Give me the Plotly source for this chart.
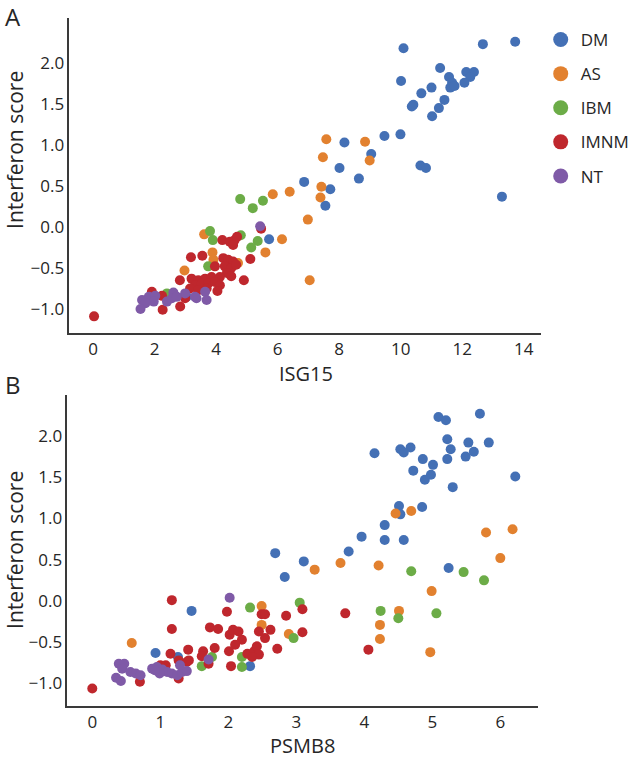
import plotly.graph_objects as go

groups = ["DM", "AS", "IBM", "IMNM", "NT"]
colors = {"DM": "#4470b5", "AS": "#e2812f", "IBM": "#6cac47", "IMNM": "#bf272d", "NT": "#7f5aa7"}

# Panel A: ISG15 vs interferon score
isg15_dm = [10.09, 12.67, 13.72, 11.28, 10.01, 11.57, 11.67, 11.61, 11.75, 12.13, 12.38, 12.26, 12.07,
            11.0, 10.67, 10.41, 10.36, 11.42, 11.24, 11.02, 9.47, 9.99, 8.17, 9.04, 8.01, 10.64, 10.82,
            6.86, 8.64, 7.71, 7.55, 13.29, 5.72, 3.04]
ifn_a_dm = [2.18, 2.23, 2.26, 1.94, 1.78, 1.83, 1.76, 1.70, 1.72, 1.89, 1.89, 1.83, 1.76,
            1.70, 1.63, 1.49, 1.47, 1.55, 1.45, 1.35, 1.11, 1.13, 1.03, 0.89, 0.72, 0.75, 0.72,
            0.55, 0.59, 0.46, 0.26, 0.37, -0.15, -0.85]
isg15_as = [7.58, 8.84, 7.47, 8.99, 7.42, 7.39, 6.39, 5.84, 6.98, 7.04, 6.14, 5.60, 3.61, 3.88, 3.91, 4.71, 2.97]
ifn_a_as = [1.07, 1.04, 0.85, 0.81, 0.49, 0.36, 0.43, 0.40, 0.09, -0.65, -0.15, -0.31, -0.09, -0.31, -0.40, -0.44, -0.53]
isg15_ibm = [4.78, 5.19, 5.52, 3.80, 3.89, 4.80, 5.35, 5.14, 3.74, 2.40]
ifn_a_ibm = [0.34, 0.23, 0.32, -0.05, -0.16, -0.10, -0.17, -0.25, -0.48, -0.81]
isg15_imnm = [5.46, 4.20, 4.44, 4.60, 4.68, 4.55, 3.18, 3.55, 3.96, 4.23, 4.39, 4.55, 4.28, 4.49, 4.65,
              5.11, 4.35, 4.49, 4.90, 2.82, 3.20, 3.42, 3.64, 3.85, 4.12, 3.31, 3.53, 3.74, 3.96, 4.12,
              3.15, 3.42, 3.69, 4.04, 1.91, 2.24, 2.99, 2.83, 2.26, 0.03]
ifn_a_imnm = [-0.02, -0.16, -0.18, -0.16, -0.12, -0.22, -0.37, -0.35, -0.48, -0.38, -0.40, -0.42, -0.48, -0.50, -0.46,
              -0.39, -0.56, -0.60, -0.65, -0.65, -0.63, -0.65, -0.63, -0.61, -0.61, -0.71, -0.69, -0.69, -0.67, -0.71,
              -0.75, -0.77, -0.75, -0.78, -0.79, -0.84, -0.87, -0.97, -1.01, -1.09]
isg15_nt = [5.43, 2.61, 2.99, 3.36, 3.64, 3.69, 3.31, 1.59, 1.81, 2.02, 1.97, 1.70, 1.54, 2.40, 2.56, 2.72]
ifn_a_nt = [0.01, -0.80, -0.81, -0.87, -0.79, -0.89, -0.85, -0.89, -0.85, -0.84, -0.91, -0.93, -1.00, -0.91, -0.87, -0.85]

# Panel B: PSMB8 vs interferon score
psmb8_dm = [5.09, 5.20, 5.70, 5.22, 5.53, 5.83, 5.27, 5.61, 5.49, 5.22, 4.15, 4.53, 4.68, 4.58, 4.86, 5.01,
            4.72, 4.98, 4.89, 6.22, 5.30, 4.51, 4.53, 4.85, 4.30, 3.96, 4.30, 4.58, 3.77, 3.11, 5.24,
            2.69, 2.83, 1.46, 0.93, 1.26, 2.32]
ifn_b_dm = [2.23, 2.19, 2.27, 1.96, 1.92, 1.92, 1.84, 1.81, 1.75, 1.72, 1.79, 1.84, 1.86, 1.80, 1.72, 1.65,
            1.58, 1.53, 1.47, 1.51, 1.38, 1.15, 1.05, 1.14, 0.92, 0.78, 0.74, 0.74, 0.60, 0.48, 0.40,
            0.58, 0.29, -0.12, -0.63, -0.68, -0.79]
psmb8_as = [4.46, 4.69, 5.79, 6.18, 6.00, 3.27, 3.65, 4.21, 4.99, 4.51, 4.23, 4.23, 4.97, 0.58, 2.49, 2.49, 2.89]
ifn_b_as = [1.06, 1.09, 0.83, 0.87, 0.52, 0.38, 0.46, 0.43, 0.12, -0.12, -0.29, -0.46, -0.62, -0.51, -0.06, -0.29, -0.40]
psmb8_ibm = [4.69, 5.46, 5.76, 4.24, 5.06, 4.50, 3.05, 2.32, 2.96, 2.20, 2.20, 1.61, 1.76]
ifn_b_ibm = [0.36, 0.35, 0.25, -0.12, -0.15, -0.21, -0.02, -0.08, -0.45, -0.68, -0.80, -0.79, -0.68]
psmb8_imnm = [3.09, 3.72, 3.09, 4.06, 0.0, 1.17, 1.17, 0.70, 1.98, 1.73, 1.85, 1.41, 1.42, 1.63, 1.61, 1.80, 1.71,
              1.15, 1.27, 1.39, 1.0, 1.08, 1.27, 2.02, 2.07, 2.15, 2.20, 2.10, 2.01, 2.04,
              2.28, 2.38, 2.42, 2.45, 2.35, 2.45, 2.54, 2.62, 2.49, 2.54, 2.72, 2.85]
ifn_b_imnm = [-0.10, -0.15, -0.38, -0.59, -1.06, 0.01, -0.34, -0.98, -0.13, -0.32, -0.34, -0.59, -0.72, -0.61, -0.67, -0.57, -0.76,
              -0.64, -0.72, -0.74, -0.78, -0.78, -0.94, -0.41, -0.35, -0.37, -0.47, -0.53, -0.61, -0.79,
              -0.64, -0.61, -0.55, -0.65, -0.68, -0.37, -0.45, -0.35, -0.16, -0.16, -0.58, -0.18]
psmb8_nt = [2.02, 1.71, 0.35, 0.42, 0.39, 0.47, 0.44, 0.56, 0.64, 0.71,
            0.88, 0.95, 1.03, 1.10, 1.17, 1.25, 1.32, 1.39, 1.29, 0.99, 0.92]
ifn_b_nt = [0.04, -0.71, -0.93, -0.97, -0.76, -0.76, -0.82, -0.86, -0.88, -0.90,
            -0.82, -0.80, -0.83, -0.86, -0.88, -0.90, -0.86, -0.85, -0.78, -0.88, -0.84]

panel_a = {"DM": (isg15_dm, ifn_a_dm), "AS": (isg15_as, ifn_a_as), "IBM": (isg15_ibm, ifn_a_ibm),
           "IMNM": (isg15_imnm, ifn_a_imnm), "NT": (isg15_nt, ifn_a_nt)}
panel_b = {"DM": (psmb8_dm, ifn_b_dm), "AS": (psmb8_as, ifn_b_as), "IBM": (psmb8_ibm, ifn_b_ibm),
           "IMNM": (psmb8_imnm, ifn_b_imnm), "NT": (psmb8_nt, ifn_b_nt)}

y_ticks = [-1.0, -0.5, 0.0, 0.5, 1.0, 1.5, 2.0]

FONT = "Open Sans"
TXT = "#262626"
W, H = 635, 758

fig = go.Figure()
for g in groups:
    xa, ya = panel_a[g]
    fig.add_trace(go.Scatter(x=xa, y=ya, mode="markers", xaxis="x", yaxis="y", showlegend=False,
                             marker=dict(color=colors[g], size=10, line=dict(width=0)), name=g))
    xb, yb = panel_b[g]
    fig.add_trace(go.Scatter(x=xb, y=yb, mode="markers", xaxis="x2", yaxis="y2", showlegend=False,
                             marker=dict(color=colors[g], size=10, line=dict(width=0)), name=g))
# legend entries
for g in groups:
    fig.add_trace(go.Scatter(x=[None], y=[None], mode="markers", xaxis="x", yaxis="y", name=g,
                             legendgroup=g, marker=dict(color=colors[g], size=15)))

axis_common = dict(showgrid=False, zeroline=False, showline=True, linecolor="#3a3a3a", linewidth=1.6,
                   ticks="", tickfont=dict(family=FONT, size=17, color=TXT), mirror=False)

fig.update_layout(
    width=W, height=H, margin=dict(l=0, r=0, t=0, b=0),
    plot_bgcolor="white", paper_bgcolor="white",
    font=dict(family=FONT, color=TXT),
    xaxis=dict(domain=[70 / W, 545 / W], range=[-0.77, 14.55], tickvals=[0, 2, 4, 6, 8, 10, 12, 14],
               anchor="y", **axis_common),
    yaxis=dict(domain=[1 - 333 / H, 1 - 18 / H], range=[-1.293, 2.549], tickvals=y_ticks,
               tickformat=".1f", anchor="x", **axis_common),
    xaxis2=dict(domain=[68 / W, 542 / W], range=[-0.365, 6.55], tickvals=[0, 1, 2, 3, 4, 5, 6],
                anchor="y2", **axis_common),
    yaxis2=dict(domain=[1 - 706 / H, 1 - 395 / H], range=[-1.273, 2.497], tickvals=y_ticks,
                tickformat=".1f", anchor="x2", **axis_common),
    legend=dict(x=545 / W, y=1 - 22 / H, xanchor="left", yanchor="top", tracegroupgap=9,
                font=dict(family=FONT, size=17, color=TXT), bgcolor="rgba(0,0,0,0)", itemwidth=30),
    annotations=[
        dict(text="A", x=3 / W, y=1 + 2 / H, xref="paper", yref="paper", xanchor="left", yanchor="top",
             showarrow=False, font=dict(family=FONT, size=24, color=TXT)),
        dict(text="B", x=3 / W, y=1 - 366 / H, xref="paper", yref="paper", xanchor="left", yanchor="top",
             showarrow=False, font=dict(family=FONT, size=24, color=TXT)),
        dict(text="Interferon score", x=15 / W, y=1 - 150 / H, xref="paper", yref="paper",
             xanchor="center", yanchor="middle", textangle=-90, showarrow=False,
             font=dict(family=FONT, size=21, color=TXT)),
        dict(text="Interferon score", x=15 / W, y=1 - 550 / H, xref="paper", yref="paper",
             xanchor="center", yanchor="middle", textangle=-90, showarrow=False,
             font=dict(family=FONT, size=21, color=TXT)),
        dict(text="ISG15", x=308 / W, y=1 - 373 / H, xref="paper", yref="paper",
             xanchor="center", yanchor="middle", showarrow=False, font=dict(family=FONT, size=20, color=TXT)),
        dict(text="PSMB8", x=305 / W, y=1 - 745 / H, xref="paper", yref="paper",
             xanchor="center", yanchor="middle", showarrow=False, font=dict(family=FONT, size=20, color=TXT)),
    ],
)

fig.write_html("out.html", config={"displayModeBar": False},
               post_script="document.body.style.margin='0';document.body.style.padding='0';")
